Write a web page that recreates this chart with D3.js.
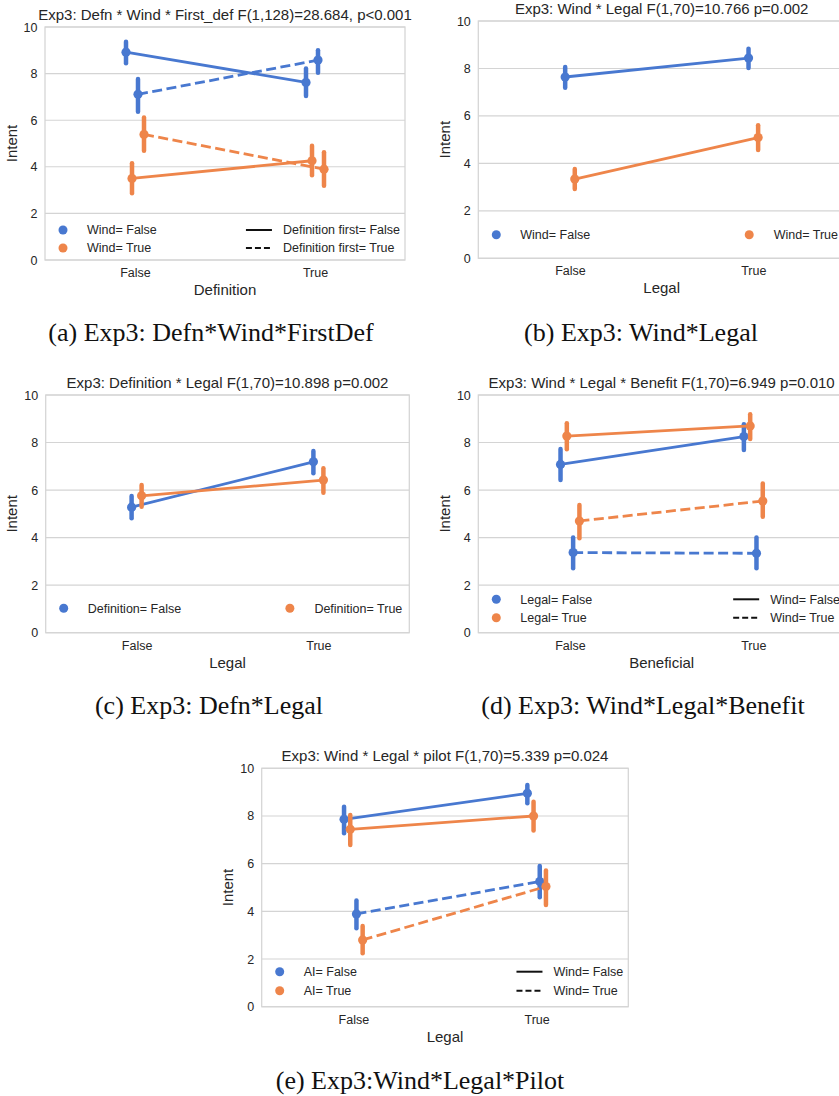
<!DOCTYPE html>
<html>
<head>
<meta charset="utf-8">
<script src="https://cdn.jsdelivr.net/npm/d3@7"></script>
<style>
  html, body { margin: 0; padding: 0; background: #ffffff; }
  svg { display: block; }
</style>
</head>
<body>
<svg id="chart" width="839" height="1096"></svg>
<script>
// ---------------- DATA ----------------
const categories = ["False", "True"];
const yTicks = [0, 2, 4, 6, 8, 10];

// (a) Defn * Wind * First_def  — series order: [Wind F / first F, Wind T / first F, Wind F / first T, Wind T / first T]
const aTitle = "Exp3: Defn * Wind * First_def F(1,128)=28.684, p<0.001";
const aXLabel = "Definition";
const aHueLabels = ["Wind= False", "Wind= True"];
const aStyleLabels = ["Definition first= False", "Definition first= True"];
const aHue = [0, 1, 0, 1];
const aStyle = [0, 0, 1, 1];
const aMean = [[8.92, 7.62], [3.50, 4.26], [7.11, 8.58], [5.39, 3.90]];
const aLow  = [[8.44, 7.04], [2.86, 3.64], [6.36, 8.04], [4.69, 3.19]];
const aHigh = [[9.37, 8.22], [4.15, 4.90], [7.77, 9.00], [6.12, 4.62]];
const aCaption = "(a) Exp3: Defn*Wind*FirstDef";

// (b) Wind * Legal
const bTitle = "Exp3: Wind * Legal F(1,70)=10.766 p=0.002";
const bXLabel = "Legal";
const bHueLabels = ["Wind= False", "Wind= True"];
const bStyleLabels = [];
const bHue = [0, 1];
const bStyle = [0, 0];
const bMean = [[7.64, 8.44], [3.34, 5.09]];
const bLow  = [[7.19, 8.02], [2.92, 4.56]];
const bHigh = [[8.06, 8.83], [3.76, 5.61]];
const bCaption = "(b) Exp3: Wind*Legal";

// (c) Definition * Legal
const cTitle = "Exp3: Definition * Legal F(1,70)=10.898 p=0.002";
const cXLabel = "Legal";
const cHueLabels = ["Definition= False", "Definition= True"];
const cStyleLabels = [];
const cHue = [0, 1];
const cStyle = [0, 0];
const cMean = [[5.28, 7.19], [5.76, 6.42]];
const cLow  = [[4.81, 6.71], [5.30, 5.89]];
const cHigh = [[5.75, 7.64], [6.21, 6.92]];
const cCaption = "(c) Exp3: Defn*Legal";

// (d) Wind * Legal * Benefit — series: [Legal F / Wind F, Legal T / Wind F, Legal F / Wind T, Legal T / Wind T]
const dTitle = "Exp3: Wind * Legal * Benefit F(1,70)=6.949 p=0.010";
const dXLabel = "Beneficial";
const dHueLabels = ["Legal= False", "Legal= True"];
const dStyleLabels = ["Wind= False", "Wind= True"];
const dHue = [0, 1, 0, 1];
const dStyle = [0, 0, 1, 1];
const dMean = [[7.08, 8.25], [8.27, 8.70], [3.37, 3.34], [4.70, 5.54]];
const dLow  = [[6.42, 7.69], [7.72, 8.15], [2.71, 2.71], [3.97, 4.88]];
const dHigh = [[7.73, 8.77], [8.81, 9.19], [4.01, 4.00], [5.37, 6.28]];
const dCaption = "(d) Exp3: Wind*Legal*Benefit";

// (e) Wind * Legal * pilot — series: [AI F / Wind F, AI T / Wind F, AI F / Wind T, AI T / Wind T]
const eTitle = "Exp3: Wind * Legal * pilot F(1,70)=5.339 p=0.024";
const eXLabel = "Legal";
const eHueLabels = ["AI= False", "AI= True"];
const eStyleLabels = ["Wind= False", "Wind= True"];
const eHue = [0, 1, 0, 1];
const eStyle = [0, 0, 1, 1];
const eMean = [[7.86, 8.95], [7.44, 8.00], [3.89, 5.25], [2.80, 5.04]];
const eLow  = [[7.28, 8.53], [6.78, 7.39], [3.29, 4.59], [2.24, 4.27]];
const eHigh = [[8.39, 9.30], [8.04, 8.60], [4.45, 5.90], [3.39, 5.71]];
const eCaption = "(e) Exp3:Wind*Legal*Pilot";

const yLabel = "Intent";

// ---------------- STYLE / LAYOUT ----------------
const colors = ["#4878d0", "#ee854a"];
const dashes = [null, "10,4.5"];
const textColor = "#262626";
const gridColor = "#d4d4d4";
const sans = "'Liberation Sans', Arial, sans-serif";
const serif = "'Liberation Serif', 'Times New Roman', serif";

const panels = [
  { layout: { left: 45, right: 405, top: 27, bottom: 260, dodge: 6, capX: 211, capY: 341, legendRows: [-30, -12] },
    title: aTitle, xLabel: aXLabel, hueLabels: aHueLabels, styleLabels: aStyleLabels,
    hue: aHue, style: aStyle, mean: aMean, low: aLow, high: aHigh, caption: aCaption },
  { layout: { left: 478.3, right: 845, top: 21, bottom: 258.3, dodge: 9.6, capX: 641, capY: 341, legendRows: [-23.5] },
    title: bTitle, xLabel: bXLabel, hueLabels: bHueLabels, styleLabels: bStyleLabels,
    hue: bHue, style: bStyle, mean: bMean, low: bLow, high: bHigh, caption: bCaption },
  { layout: { left: 45.7, right: 409.3, top: 395, bottom: 632.7, dodge: 10, capX: 209, capY: 714, legendRows: [-24.5] },
    title: cTitle, xLabel: cXLabel, hueLabels: cHueLabels, styleLabels: cStyleLabels,
    hue: cHue, style: cStyle, mean: cMean, low: cLow, high: cHigh, caption: cCaption },
  { layout: { left: 478.3, right: 845, top: 395, bottom: 632.7, dodge: 6.3, capX: 643, capY: 714, legendRows: [-33.4, -15] },
    title: dTitle, xLabel: dXLabel, hueLabels: dHueLabels, styleLabels: dStyleLabels,
    hue: dHue, style: dStyle, mean: dMean, low: dLow, high: dHigh, caption: dCaption },
  { layout: { left: 261.7, right: 628.3, top: 768.3, bottom: 1006.7, dodge: 6.2, capX: 420, capY: 1089, legendRows: [-35, -16] },
    title: eTitle, xLabel: eXLabel, hueLabels: eHueLabels, styleLabels: eStyleLabels,
    hue: eHue, style: eStyle, mean: eMean, low: eLow, high: eHigh, caption: eCaption }
];

const svg = d3.select("#chart");
svg.append("rect").attr("width", 839).attr("height", 1096).attr("fill", "#fff");

function drawPanel(p) {
  const L = p.layout;
  const g = svg.append("g");
  const y = d3.scaleLinear().domain([0, 10]).range([L.bottom, L.top]);
  const x = d3.scalePoint().domain(categories).range([L.left, L.right]).padding(0.5);

  // grid
  g.append("g").selectAll("line").data(yTicks).join("line")
    .attr("x1", L.left).attr("x2", L.right)
    .attr("y1", d => y(d)).attr("y2", d => y(d))
    .attr("stroke", gridColor).attr("stroke-width", 1.1);
  // frame
  g.append("rect")
    .attr("x", L.left).attr("y", L.top)
    .attr("width", L.right - L.left).attr("height", L.bottom - L.top)
    .attr("fill", "none").attr("stroke", gridColor).attr("stroke-width", 1.25);

  // axes
  const ya = g.append("g").attr("transform", `translate(${L.left},0)`)
    .call(d3.axisLeft(y).tickValues(yTicks).tickSize(0).tickPadding(7.5).tickFormat(d3.format("d")));
  ya.select(".domain").remove();
  ya.selectAll("text").attr("fill", textColor).style("font-family", sans).style("font-size", "12.5px");

  const xa = g.append("g").attr("transform", `translate(0,${L.bottom})`)
    .call(d3.axisBottom(x).tickSize(0).tickPadding(8));
  xa.select(".domain").remove();
  xa.selectAll("text").attr("fill", textColor).style("font-family", sans).style("font-size", "12.5px");

  // labels
  g.append("text").text(p.title)
    .attr("x", (L.left + L.right) / 2).attr("y", L.top - 7)
    .attr("text-anchor", "middle").attr("fill", textColor)
    .style("font-family", sans).style("font-size", "15px");
  g.append("text").text(p.xLabel)
    .attr("x", (L.left + L.right) / 2).attr("y", L.bottom + 35)
    .attr("text-anchor", "middle").attr("fill", textColor)
    .style("font-family", sans).style("font-size", "15px");
  g.append("text").text(yLabel)
    .attr("transform", `translate(${L.left - 28.5},${(L.top + L.bottom) / 2}) rotate(-90)`)
    .attr("text-anchor", "middle").attr("fill", textColor)
    .style("font-family", sans).style("font-size", "15px");

  // series
  const n = p.mean.length;
  const line = d3.line().x(d => d[0]).y(d => d[1]);
  p.mean.forEach((vals, i) => {
    const off = (i - (n - 1) / 2) * L.dodge;
    const col = colors[p.hue[i]];
    const pts = vals.map((v, j) => [x(categories[j]) + off, y(v)]);
    const sg = g.append("g");
    sg.append("path").attr("d", line(pts))
      .attr("fill", "none").attr("stroke", col).attr("stroke-width", 2.8)
      .attr("stroke-dasharray", dashes[p.style[i]]);
    sg.selectAll("line.err").data(vals).join("line").attr("class", "err")
      .attr("x1", (v, j) => x(categories[j]) + off).attr("x2", (v, j) => x(categories[j]) + off)
      .attr("y1", (v, j) => y(p.low[i][j])).attr("y2", (v, j) => y(p.high[i][j]))
      .attr("stroke", col).attr("stroke-width", 4.5).attr("stroke-linecap", "round");
    sg.selectAll("circle").data(vals).join("circle")
      .attr("cx", (v, j) => x(categories[j]) + off).attr("cy", v => y(v))
      .attr("r", 4.6).attr("fill", col);
  });

  // legend
  const lg = g.append("g");
  const fs = "12.5px";
  if (p.styleLabels.length > 0) {
    p.hueLabels.forEach((lab, k) => {
      const yy = L.bottom + L.legendRows[k];
      lg.append("circle").attr("cx", L.left + 18).attr("cy", yy).attr("r", 4.5).attr("fill", colors[k]);
      lg.append("text").text(lab).attr("x", L.left + 42).attr("y", yy).attr("dy", "0.35em")
        .attr("fill", textColor).style("font-family", sans).style("font-size", fs);
    });
    const texts = p.styleLabels.map((lab, k) => lg.append("text").text(lab)
      .attr("y", L.bottom + L.legendRows[k]).attr("dy", "0.35em")
      .attr("fill", textColor).style("font-family", sans).style("font-size", fs));
    const maxW = d3.max(texts, t => t.node().getComputedTextLength());
    const tx = L.right - 5 - maxW;
    texts.forEach((t, k) => {
      t.attr("x", tx);
      const yy = L.bottom + L.legendRows[k];
      lg.append("line").attr("x1", tx - 37).attr("x2", tx - 11).attr("y1", yy).attr("y2", yy)
        .attr("stroke", "#111").attr("stroke-width", 2).attr("stroke-dasharray", k === 1 ? "6,3" : null);
    });
  } else {
    const yy = L.bottom + L.legendRows[0];
    lg.append("circle").attr("cx", L.left + 18).attr("cy", yy).attr("r", 4.5).attr("fill", colors[0]);
    lg.append("text").text(p.hueLabels[0]).attr("x", L.left + 42).attr("y", yy).attr("dy", "0.35em")
      .attr("fill", textColor).style("font-family", sans).style("font-size", fs);
    const t2 = lg.append("text").text(p.hueLabels[1]).attr("y", yy).attr("dy", "0.35em")
      .attr("fill", textColor).style("font-family", sans).style("font-size", fs);
    const w = t2.node().getComputedTextLength();
    const tx = L.right - 7 - w;
    t2.attr("x", tx);
    lg.append("circle").attr("cx", tx - 24.5).attr("cy", yy).attr("r", 4.5).attr("fill", colors[1]);
  }

  // caption
  svg.append("text").text(p.caption)
    .attr("x", L.capX).attr("y", L.capY).attr("text-anchor", "middle")
    .attr("fill", "#111").style("font-family", serif).style("font-size", "26px");
}

panels.forEach(drawPanel);
</script>
</body>
</html>
